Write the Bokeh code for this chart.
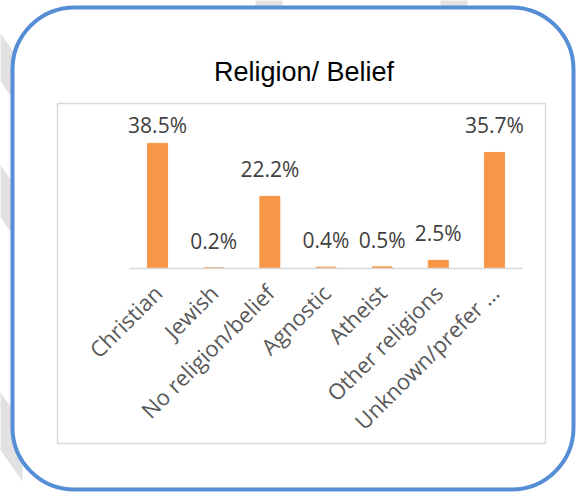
import math
import numpy as np
from bokeh.plotting import figure
from bokeh.models import (ColumnDataSource, Range1d, LabelSet, Label, BoxAnnotation,
                          LinearAxis, FixedTicker)
from bokeh.core.properties import value
from bokeh.embed import file_html
from bokeh.resources import INLINE

# ---- data ----
categories = ["Christian", "Jewish", "No religion/belief", "Agnostic", "Atheist",
              "Other religions", "Unknown/prefer \u2026"]
percentages = [38.5, 0.2, 22.2, 0.4, 0.5, 2.5, 35.7]
value_labels = ["38.5%", "0.2%", "22.2%", "0.4%", "0.5%", "2.5%", "35.7%"]
chart_title = "Religion/ Belief"

# ---- layout (canvas pixels, measured from top-left) ----
W, H = 576, 492
AX_LEFT, AX_RIGHT = 129.0, 522.0       # extent of the category axis
BASE_Y = 268.0                          # baseline (0 %)
PX_PER_PCT = 3.25
LABEL_CAP = 36.0                        # data labels pushed inside the plot area

n = len(categories)
cw = (AX_RIGHT - AX_LEFT) / n
IDX_START = -0.5 - AX_LEFT / cw
IDX_END = IDX_START + W / cw
PCT_START = -(H - BASE_Y) / PX_PER_PCT
PCT_END = BASE_Y / PX_PER_PCT

def Y(y_top):
    """top-down pixel -> canvas data y"""
    return H - y_top

idx = list(range(n))
src = ColumnDataSource(dict(
    idx=idx,
    val=percentages,
    lab=value_labels,
    lab_y=list(np.minimum(np.array(percentages), LABEL_CAP)),
))

p = figure(width=W, height=H, x_range=Range1d(0, W), y_range=Range1d(0, H),
           x_axis_location=None, y_axis_location=None, min_border=0,
           output_backend="svg", toolbar_location=None)
p.extra_x_ranges = {"idx": Range1d(IDX_START, IDX_END)}
p.extra_y_ranges = {"pct": Range1d(PCT_START, PCT_END)}
p.outline_line_color = None
p.background_fill_color = "white"
p.border_fill_color = "white"
p.grid.visible = False

# faint grey page stripes peeking out behind the card (decoration)
stripes = [(0, 57, 24, -60, 30), (0, 191, 26, -60, 30), (0, 421, 29, -60, 22),
           (270, 0, 54, -15, 12), (455, 0, 40, -15, 12)]
k = 1.4
sxs, sys_ = [], []
for (x0, y0, hv, t0, t1) in stripes:
    xs = [x0 + t0, x0 + t1, x0 + t1, x0 + t0]
    ys = [y0 + k * t0 - hv, y0 + k * t1 - hv, y0 + k * t1 + hv, y0 + k * t0 + hv]
    sxs.append(xs)
    sys_.append([Y(v) for v in ys])
p.patches(sxs, sys_, fill_color="#e1e1e1", line_color=None, level="image")

# rounded blue container
box = BoxAnnotation(left=12, right=573, top=Y(7), bottom=Y(489),
                    fill_color="white", fill_alpha=1.0, line_color="#558ed5",
                    line_alpha=1.0, line_width=4, border_radius=62, level="underlay")
p.add_layout(box)

# light grey chart frame
frame_box = BoxAnnotation(left=57, right=545, top=Y(103), bottom=Y(443),
                          fill_alpha=0.0, line_color="#d9d9d9", line_alpha=1.0,
                          line_width=1.5, level="underlay")
p.add_layout(frame_box)

p.vbar(x="idx", top="val", width=0.356, source=src, fill_color="#f79646",
       line_color="#f79646", x_range_name="idx", y_range_name="pct")

labels = LabelSet(x="idx", y="lab_y", text="lab", source=src, text_align="center",
                  text_baseline="alphabetic", y_offset=19, text_font=value("Open Sans"),
                  text_font_size="21px", text_color="#404040",
                  x_range_name="idx", y_range_name="pct")
p.add_layout(labels)

title = Label(x=303.5, y=Y(71), text=chart_title,
              text_align="center", text_baseline="alphabetic", text_font="Liberation Sans",
              text_font_size="27px", text_color="#000000")
p.add_layout(title)

ax = LinearAxis(x_range_name="idx", y_range_name="pct", fixed_location=0,
                ticker=FixedTicker(ticks=idx),
                major_label_overrides={i: c for i, c in zip(idx, categories)},
                bounds=(-0.5, n - 0.5))
ax.axis_line_color = "#d9d9d9"
ax.axis_line_width = 1.5
ax.major_tick_line_color = None
ax.minor_tick_line_color = None
ax.major_tick_out = 0
ax.major_label_standoff = 20
ax.major_label_orientation = math.pi / 4
ax.major_label_text_font = "Open Sans"
ax.major_label_text_font_size = "22px"
ax.major_label_text_color = "#595959"
p.add_layout(ax, "below")

open("out.html", "w").write(file_html(p, INLINE))
